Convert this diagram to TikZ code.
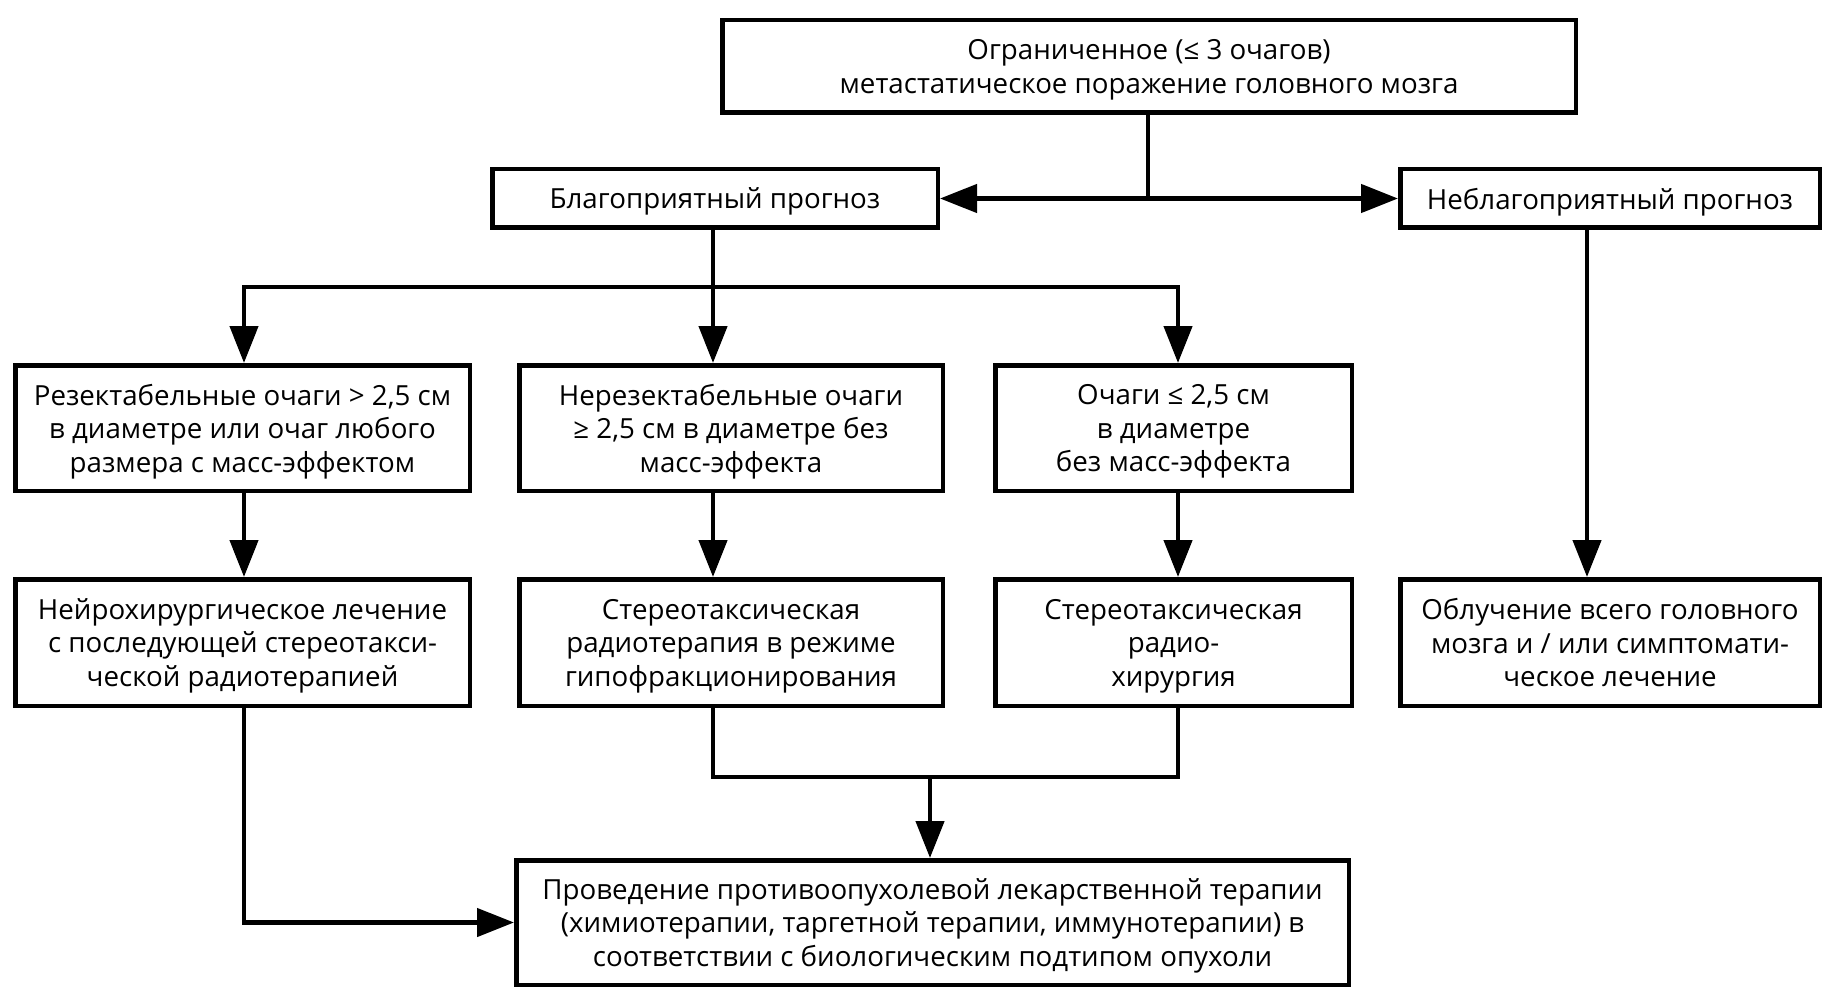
\documentclass[tikz,border=0pt]{standalone}
\usepackage{fontspec}
\setmainfont{Open Sans}
\usetikzlibrary{arrows.meta,calc}
\tikzset{
  box/.style={draw=black, line width=4.5pt, fill=white, inner sep=0pt, align=center,
    text depth=0pt, font=\fontsize{27.7}{33.5}\selectfont},
  conn/.style={draw=black, line width=4.5pt},
  arr/.style={conn, -{Triangle[length=37pt,width=28pt]}}
}
\begin{document}
\begin{tikzpicture}[x=1pt,y=-1pt]
\useasboundingbox (0,0) rectangle (1836,1003);
% boxes (outer size minus line width)
\node[box, minimum width=853.5pt, minimum height=92.5pt] (top) at (1149,66.5)
  {Ограниченное (≤ 3 очагов)\\метастатическое поражение головного мозга};
\node[box, minimum width=445.5pt, minimum height=58.5pt] (blag) at (715,198.5)
  {Благоприятный прогноз};
\node[box, minimum width=419.5pt, minimum height=58.5pt] (nebl) at (1610,198.5)
  {Неблагоприятный прогноз};
\node[box, minimum width=454.5pt, minimum height=125.5pt] (A2) at (242.5,428)
  {Резектабельные очаги > 2,5 см\\в диаметре или очаг любого\\размера с масс-эффектом};
\node[box, minimum width=423.5pt, minimum height=125.5pt] (B2) at (731,428)
  {Нерезектабельные очаги\\≥ 2,5 см в диаметре без\\масс-эффекта};
\node[box, minimum width=356.5pt, minimum height=125.5pt] (C2) at (1173.5,428)
  {Очаги ≤ 2,5 см\\в диаметре\\без масс-эффекта};
\node[box, minimum width=454.5pt, minimum height=126.5pt] (A3) at (242.5,642.5)
  {Нейрохирургическое лечение\\с последующей стереотакси-\\ческой радиотерапией};
\node[box, minimum width=423.5pt, minimum height=126.5pt] (B3) at (731,642.5)
  {Стереотаксическая\\радиотерапия в режиме\\гипофракционирования};
\node[box, minimum width=356.5pt, minimum height=126.5pt] (C3) at (1173.5,642.5)
  {Стереотаксическая\\радио-\\хирургия};
\node[box, minimum width=419.5pt, minimum height=126.5pt] (D3) at (1610,642.5)
  {Облучение всего головного\\мозга и / или симптомати-\\ческое лечение};
\node[box, minimum width=832.5pt, minimum height=124.5pt] (fin) at (932.5,922.5)
  {Проведение противоопухолевой лекарственной терапии\\(химиотерапии, таргетной терапии, иммунотерапии) в\\соответствии с биологическим подтипом опухоли};
% junction coordinates
\coordinate (j1) at (1148,198.5);
\coordinate (dA) at (244,287);
\coordinate (dB) at (713,287);
\coordinate (dC) at (1178,287);
\coordinate (dD) at (1587,230);
\coordinate (jB) at (713,777);
\coordinate (jC) at (1178,777);
\coordinate (jM) at (930,777);
\coordinate (jA) at (244,922.5);
% connectors
\draw[conn] (top.south -| j1) -- (j1);
\draw[arr] (j1) -- (blag.east);
\draw[arr] (j1) -- (nebl.west);
\draw[conn] (blag.south -| dB) -- (dB);
\draw[conn, line cap=rect] (dA) -- (dC);
\draw[arr] (dA) -- (dA |- A2.north);
\draw[arr] (dB) -- (dB |- B2.north);
\draw[arr] (dC) -- (dC |- C2.north);
\draw[arr] (A2.south -| dA) -- (A3.north -| dA);
\draw[arr] (B2.south -| dB) -- (B3.north -| dB);
\draw[arr] (C2.south -| dC) -- (C3.north -| dC);
\draw[arr] (nebl.south -| dD) -- (D3.north -| dD);
\draw[conn, line join=miter] (B3.south -| jB) -- (jB) -- (jC) -- (C3.south -| jC);
\draw[arr] (jM) -- (jM |- fin.north);
\draw[arr, line join=miter] (A3.south -| jA) -- (jA) -- (fin.west);
\end{tikzpicture}
\end{document}
